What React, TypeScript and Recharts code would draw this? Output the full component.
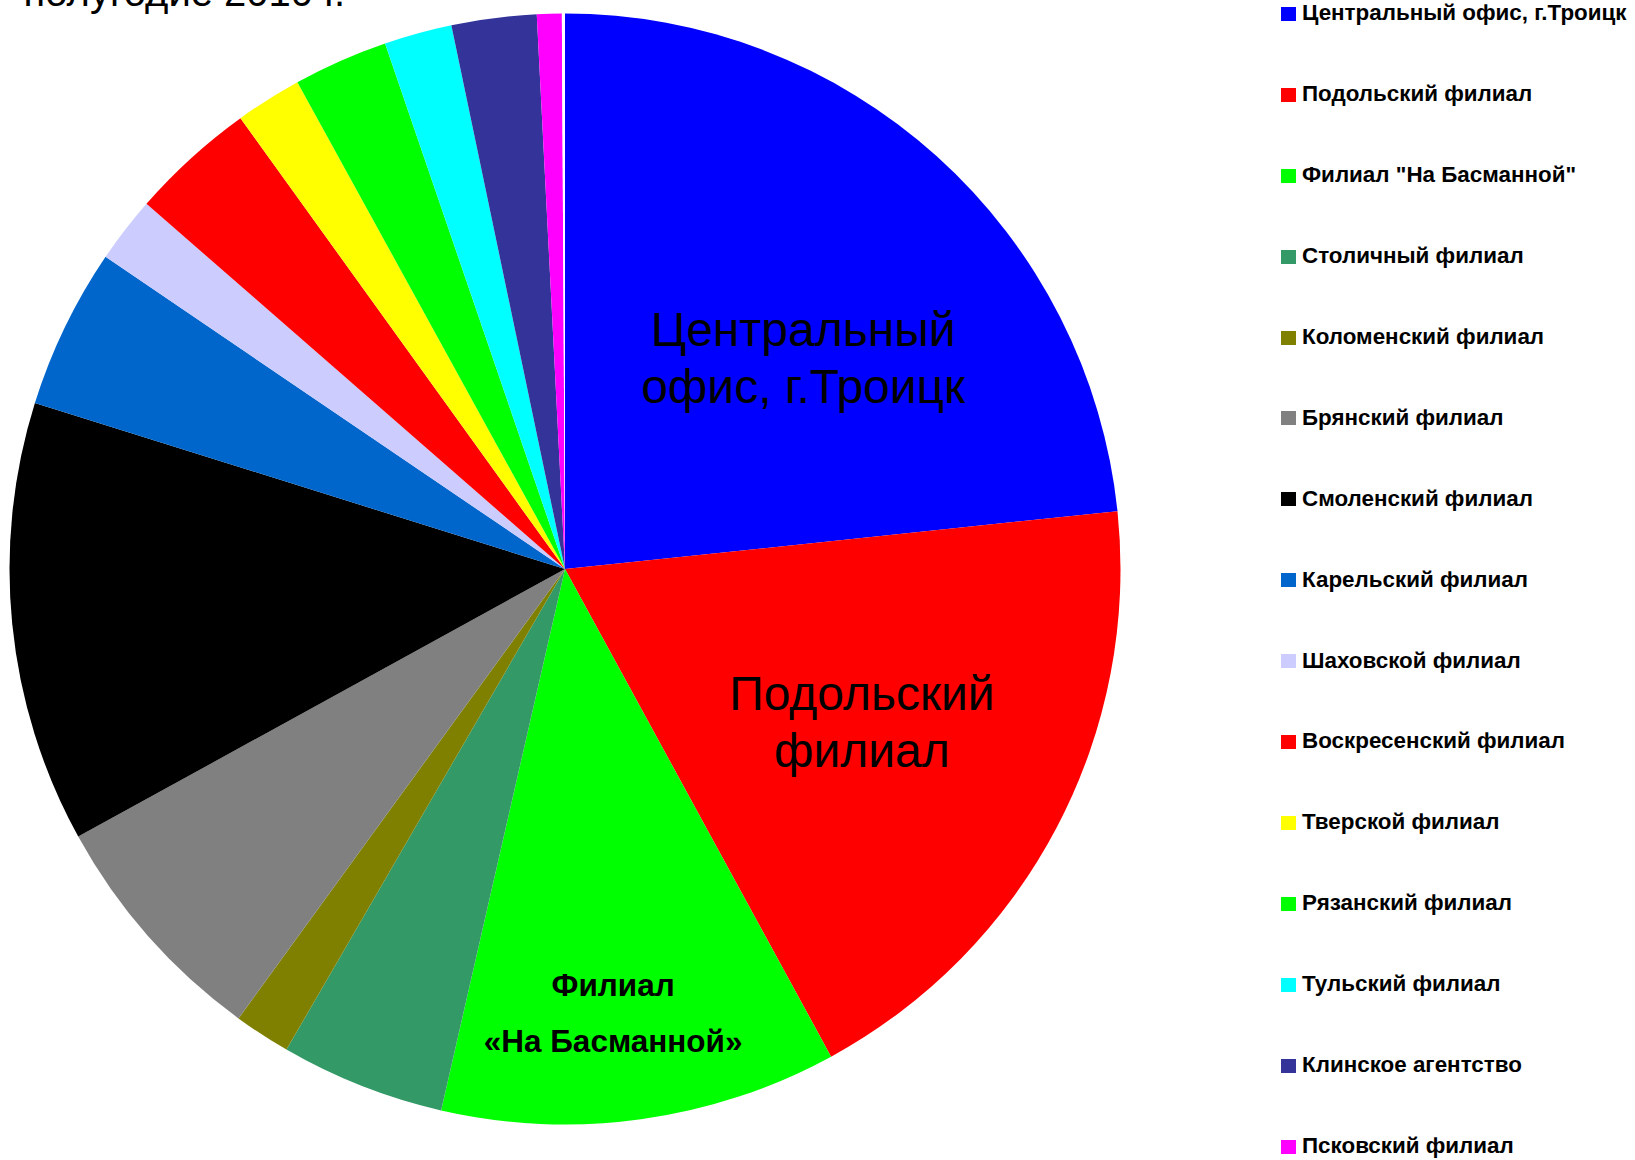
import React from "react";
import { PieChart, Pie, Cell, Legend } from "recharts";

const categories = [
  "Центральный офис, г.Троицк",
  "Подольский филиал",
  'Филиал "На Басманной"',
  "Столичный филиал",
  "Коломенский филиал",
  "Брянский филиал",
  "Смоленский филиал",
  "Карельский филиал",
  "Шаховской филиал",
  "Воскресенский филиал",
  "Тверской филиал",
  "Рязанский филиал",
  "Тульский филиал",
  "Клинское агентство",
  "Псковский филиал",
];

const shares = [
  23.34, 18.71, 11.53, 4.78, 1.64, 7.0, 12.83, 4.67, 1.92, 3.65, 1.93, 2.75,
  1.97, 2.47, 0.72,
];

const colors = [
  "#0000FF",
  "#FF0000",
  "#00FF00",
  "#339966",
  "#808000",
  "#808080",
  "#000000",
  "#0066CC",
  "#CCCCFF",
  "#FF0000",
  "#FFFF00",
  "#00FF00",
  "#00FFFF",
  "#333399",
  "#FF00FF",
];

// thin unlabeled white wedge visible between the last and first slices
const gapShare = 0.09;

const titleText = "полугодие 2010 г.";

const sliceLabels: Record<number, string[]> = {
  0: ["Центральный", "офис, г.Троицк"],
  1: ["Подольский", "филиал"],
  2: ["Филиал", "«На Басманной»"],
};

const LABEL_LAYOUT: Record<
  number,
  { rFrac: number; shift: number; size: number; weight: number; lead: number }
> = {
  0: { rFrac: 0.5856, shift: -4.88, size: 48, weight: 400, lead: 57 },
  1: { rFrac: 0.59, shift: 2.32, size: 48, weight: 400, lead: 57 },
  2: { rFrac: 0.7715, shift: -1.44, size: 31.5, weight: 700, lead: 56 },
};

const FONT = "'Liberation Sans', Arial, Helvetica, sans-serif";

const pieData = [
  ...categories.map((name, i) => ({ name, value: shares[i], fill: colors[i] })),
  { name: "", value: gapShare, fill: "#FFFFFF" },
];

const renderLabel = (props: any) => {
  const { cx, cy, midAngle, outerRadius, index } = props;
  const lay = LABEL_LAYOUT[index];
  const lines = sliceLabels[index];
  if (!lay || !lines) return <g key={`l-${index}`} />;
  const a = ((midAngle + lay.shift) * Math.PI) / 180;
  const r = 557 * lay.rFrac;
  const x = cx + r * Math.cos(a);
  const y = cy - r * Math.sin(a);
  return (
    <text
      key={`l-${index}`}
      x={x}
      y={y}
      textAnchor="middle"
      fill="#000"
      fontFamily={FONT}
      fontSize={lay.size}
      fontWeight={lay.weight}
    >
      {lines.map((ln, k) => (
        <tspan key={k} x={x} dy={k === 0 ? 0 : lay.lead}>
          {ln}
        </tspan>
      ))}
    </text>
  );
};

const LEGEND_FIRST_BASELINE = 20.7;
const LEGEND_STEP = 80.95;

const renderLegend = () => (
  <div style={{ position: "relative", width: 354, height: 1160 }}>
    {categories.map((name, i) => {
      const base = LEGEND_FIRST_BASELINE + LEGEND_STEP * i;
      return (
        <React.Fragment key={name + i}>
          <div
            style={{
              position: "absolute",
              left: 0,
              top: base - 14,
              width: 15,
              height: 14,
              background: colors[i],
            }}
          />
          <div
            style={{
              position: "absolute",
              left: 21,
              top: base - 19.8,
              fontFamily: FONT,
              fontWeight: 700,
              fontSize: 22.4,
              lineHeight: "24px",
              whiteSpace: "nowrap",
              color: "#000",
            }}
          >
            {name}
          </div>
        </React.Fragment>
      );
    })}
  </div>
);

export default function App() {
  return (
    <div
      style={{
        position: "absolute",
        left: 0,
        top: 0,
        width: 1635,
        height: 1160,
        background: "#fff",
        overflow: "hidden",
      }}
    >
      <PieChart
        width={1635}
        height={1160}
        margin={{ top: 0, right: 0, bottom: 0, left: 0 }}
      >
        <Pie
          data={pieData}
          dataKey="value"
          nameKey="name"
          cx={565}
          cy={569}
          outerRadius={555.5}
          startAngle={90}
          endAngle={-270}
          stroke="none"
          isAnimationActive={false}
          labelLine={false}
          label={renderLabel}
        >
          {pieData.map((d, i) => (
            <Cell key={i} fill={d.fill} stroke="none" />
          ))}
        </Pie>
        <Legend
          layout="vertical"
          align="right"
          verticalAlign="top"
          content={renderLegend}
          wrapperStyle={{ left: 1281, top: 0, width: 354, height: 1160 }}
        />
      </PieChart>
      <svg
        width={420}
        height={30}
        style={{ position: "absolute", left: 0, top: 0 }}
      >
        <text
          x={345}
          y={6}
          textAnchor="end"
          fontFamily={FONT}
          fontSize={40}
          fill="#000"
        >
          {titleText}
        </text>
      </svg>
    </div>
  );
}
